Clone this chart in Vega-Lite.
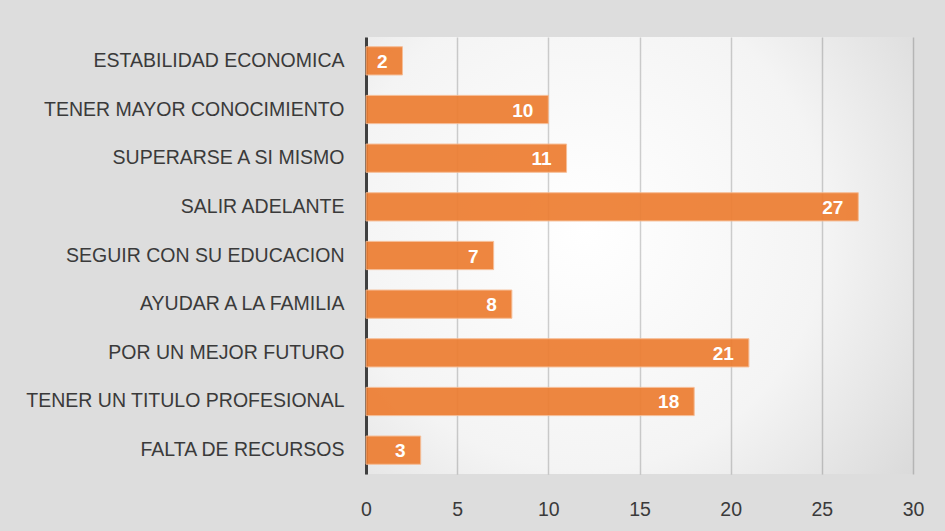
{
  "$schema": "https://vega.github.io/schema/vega-lite/v6.json",
  "autosize": "none",
  "width": 547,
  "height": 437,
  "padding": {"left": 366, "top": 37, "right": 32, "bottom": 57},
  "background": "#dddddd",
  "view": {
    "stroke": null,
    "fill": {
      "gradient": "radial",
      "x1": 0.4, "y1": 0.45, "x2": 0.4, "y2": 0.45,
      "r1": 0, "r2": 0.8,
      "stops": [
        {"offset": 0, "color": "#ffffff"},
        {"offset": 0.55, "color": "#f4f4f4"},
        {"offset": 1, "color": "#d6d6d6"}
      ]
    }
  },
  "data": {
    "values": [
      {"motivo": "ESTABILIDAD ECONOMICA", "valor": 2},
      {"motivo": "TENER MAYOR CONOCIMIENTO", "valor": 10},
      {"motivo": "SUPERARSE A SI MISMO", "valor": 11},
      {"motivo": "SALIR ADELANTE", "valor": 27},
      {"motivo": "SEGUIR CON SU EDUCACION", "valor": 7},
      {"motivo": "AYUDAR A LA FAMILIA", "valor": 8},
      {"motivo": "POR UN MEJOR FUTURO", "valor": 21},
      {"motivo": "TENER UN TITULO PROFESIONAL", "valor": 18},
      {"motivo": "FALTA DE RECURSOS", "valor": 3}
    ]
  },
  "encoding": {
    "y": {
      "field": "motivo",
      "type": "nominal",
      "sort": null,
      "scale": {"paddingInner": 0.42, "paddingOuter": 0.2},
      "axis": {
        "title": null,
        "ticks": false,
        "labelPadding": 22,
        "labelLimit": 0,
        "labelFont": "Liberation Sans",
        "labelFontSize": 19.5,
        "labelColor": "#3a3a3a",
        "domainColor": "#404040",
        "domainWidth": 3,
        "grid": false
      }
    },
    "x": {
      "field": "valor",
      "type": "quantitative",
      "scale": {"domain": [0, 30], "nice": false},
      "axis": {
        "title": null,
        "values": [0, 5, 10, 15, 20, 25, 30],
        "domain": false,
        "ticks": false,
        "labelFlush": false,
        "labelPadding": 26,
        "labelFont": "Liberation Sans",
        "labelFontSize": 19.5,
        "labelColor": "#3a3a3a",
        "grid": true,
        "gridColor": "#000000",
        "gridOpacity": 0.18,
        "gridWidth": 1.5
      }
    }
  },
  "layer": [
    {
      "mark": {"type": "bar", "color": "#ED7D31", "opacity": 0.92, "stroke": "#f6b98f", "strokeWidth": 1}
    },
    {
      "mark": {"type": "text", "align": "right", "baseline": "middle", "dx": -15, "dy": 1, "color": "#ffffff", "font": "Liberation Sans", "fontWeight": "bold", "fontSize": 19},
      "encoding": {"text": {"field": "valor", "type": "quantitative"}}
    }
  ]
}
